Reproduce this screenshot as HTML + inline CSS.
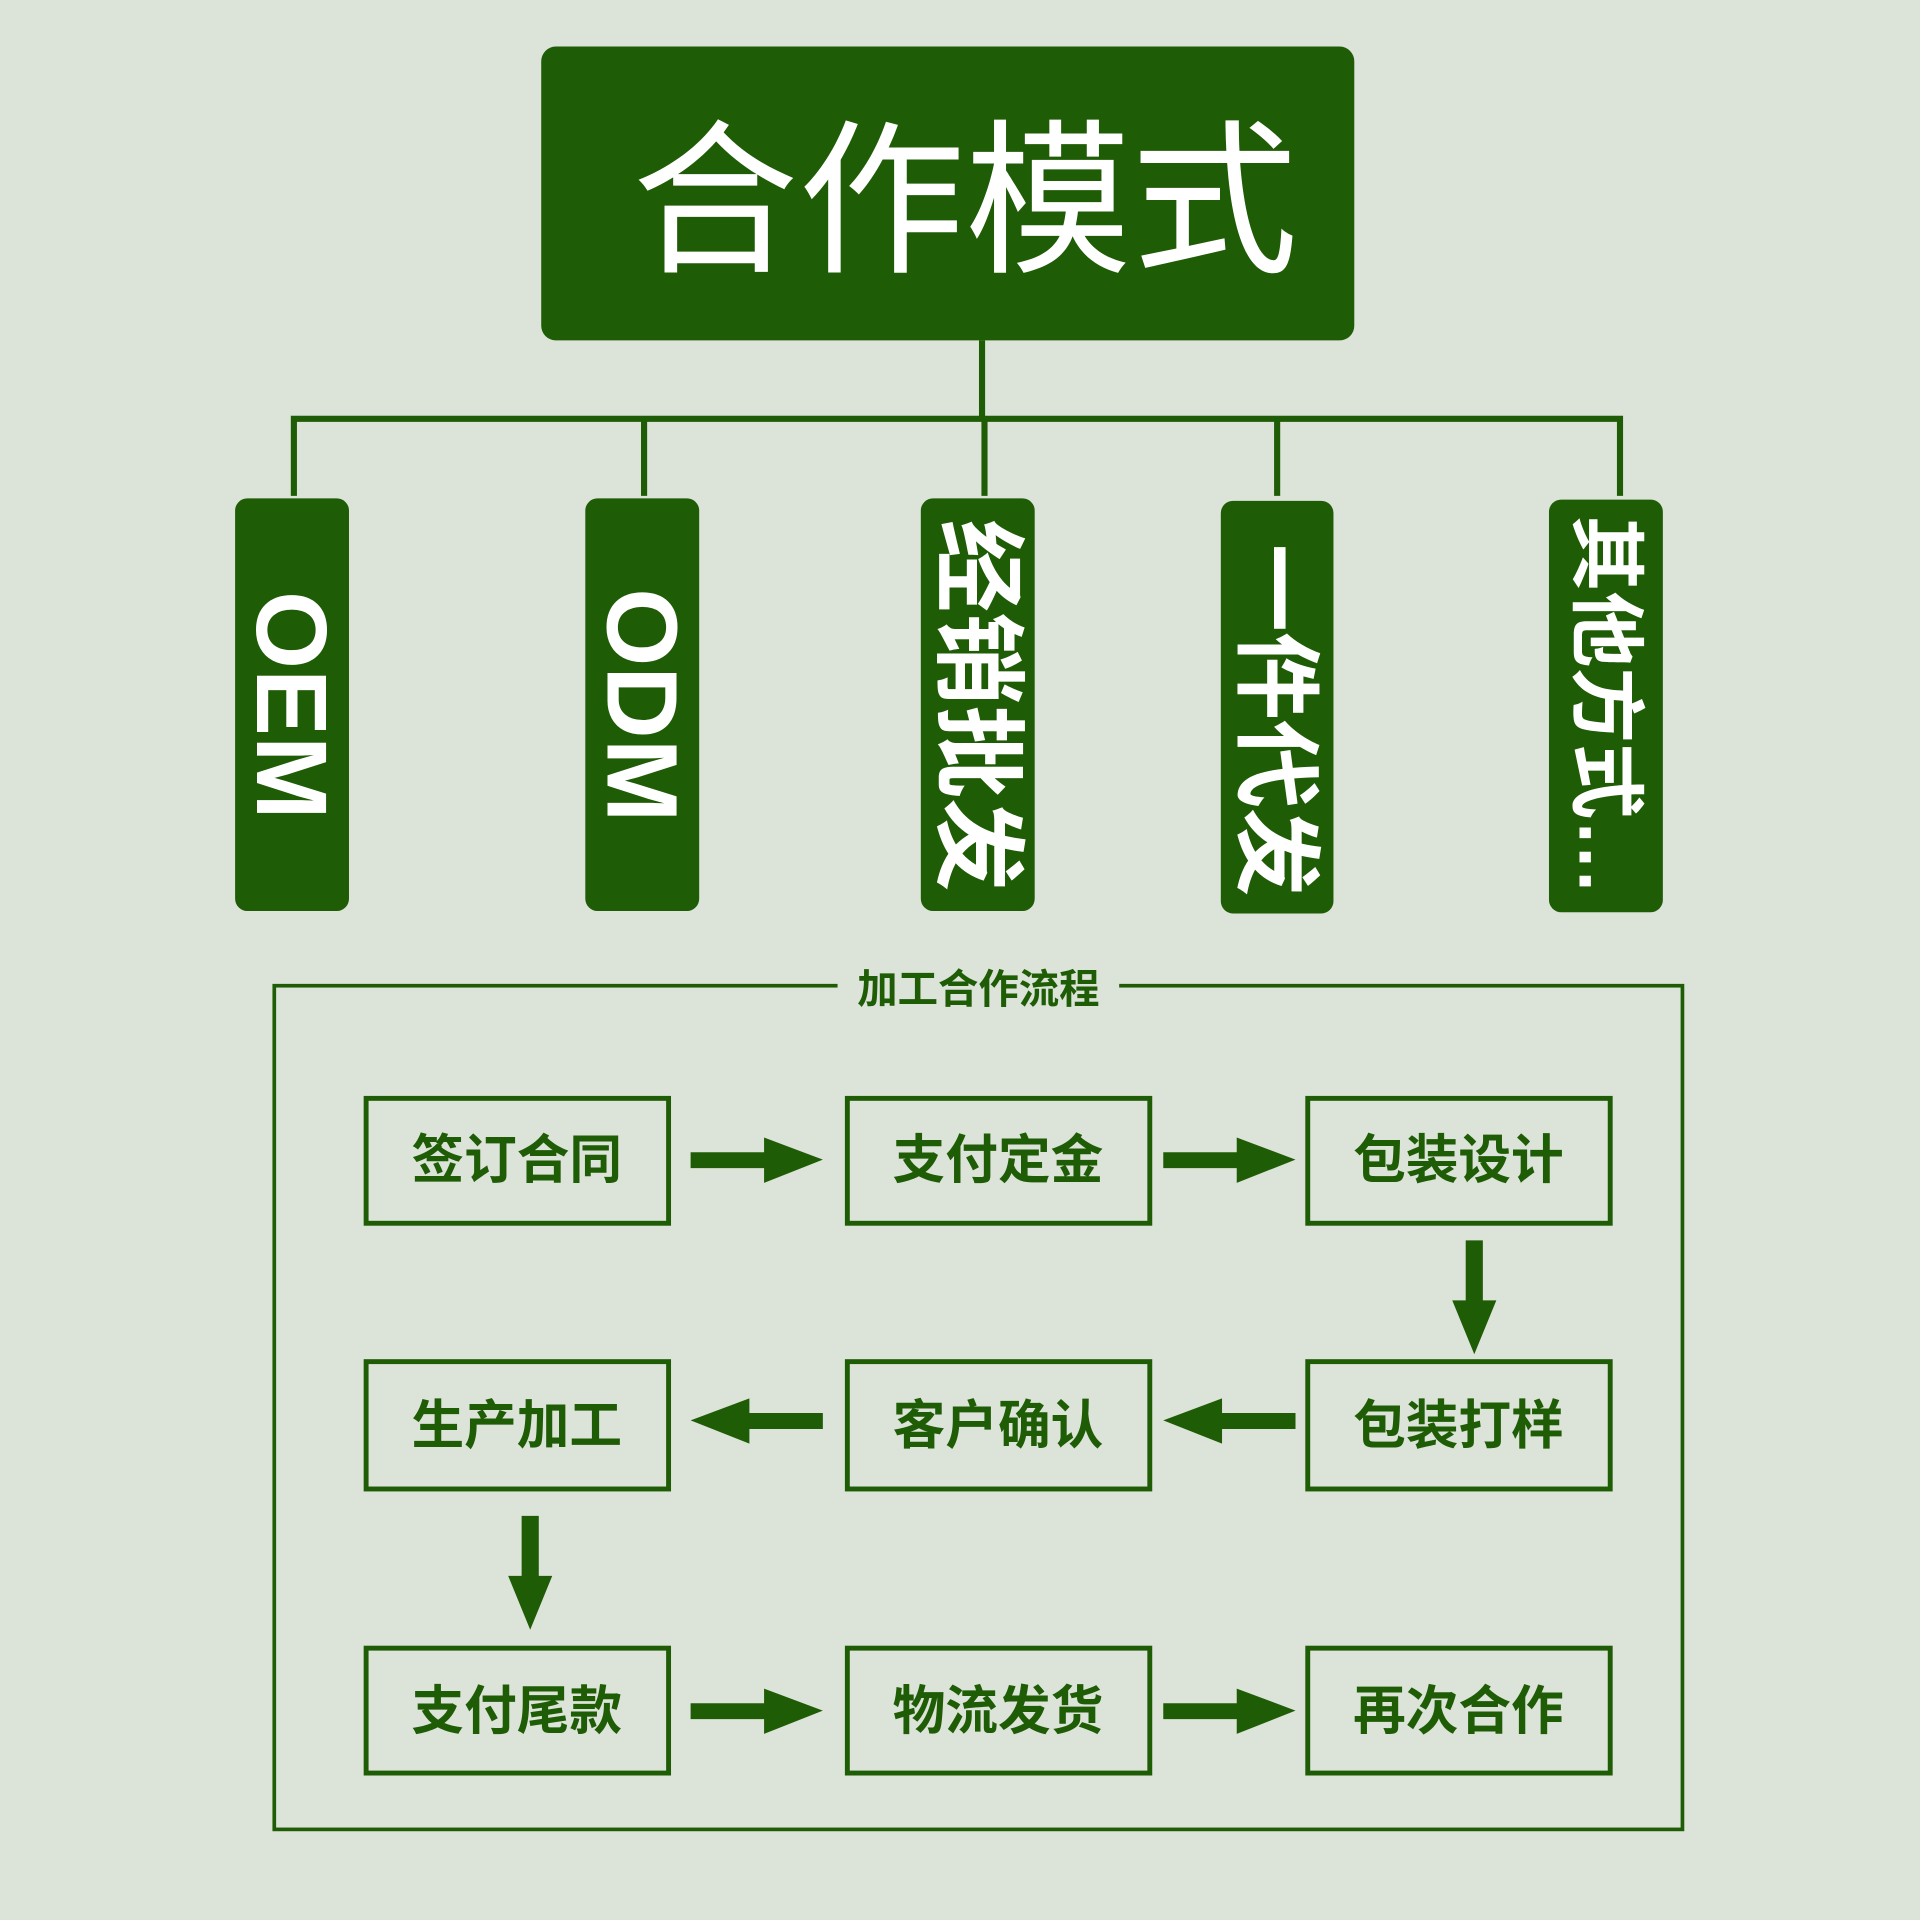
<!DOCTYPE html>
<html><head><meta charset="utf-8"><style>
html,body{margin:0;padding:0;background:#dce3d8;}
svg{display:block}
text{font-family:"Liberation Sans","Noto Sans CJK SC",sans-serif;}
</style></head><body>
<svg width="1920" height="1920" viewBox="0 0 1568 1568" xmlns="http://www.w3.org/2000/svg">
<rect width="1568" height="1568" fill="#dce3d8"/>
<g fill="#1f5c06">
<rect x="442" y="38" width="664" height="240" rx="12"/>
<rect x="192" y="407" width="93" height="337" rx="10"/>
<rect x="478" y="407" width="93" height="337" rx="10"/>
<rect x="752" y="407" width="93" height="337" rx="10"/>
<rect x="997" y="409" width="92" height="337" rx="10"/>
<rect x="1265" y="408" width="93" height="337" rx="10"/>
</g>
<text x="788" y="212" font-size="136" fill="#fff" text-anchor="middle">合作模式</text>
<g stroke="#1f5c06" stroke-width="5" fill="none">
<line x1="802" y1="278" x2="802" y2="342"/>
<polyline points="240,405 240,342 1323,342 1323,405"/>
<line x1="526" y1="342" x2="526" y2="405"/>
<line x1="804" y1="342" x2="804" y2="405"/>
<line x1="1043" y1="342" x2="1043" y2="405"/>
</g>
<g fill="#fff" font-weight="bold" text-anchor="middle">
<text transform="translate(239,576) rotate(90)" font-size="82" dy="29">OEM</text>
<text transform="translate(525,576) rotate(90)" font-size="82" dy="29">ODM</text>
<text transform="translate(799,576) rotate(90)" font-size="76" dy="27">经销批发</text>
<text transform="translate(1043,588) rotate(90)" font-size="72" dy="26">一件代发</text>
<text transform="translate(1312,576) rotate(90)" font-size="62" dy="22">其他方式…</text>
</g>
<rect x="224" y="805" width="1150" height="689" fill="none" stroke="#1f5c06" stroke-width="3"/>
<rect x="684" y="788" width="230" height="38" fill="#dce3d8"/>
<text x="799" y="819" font-size="33" font-weight="bold" fill="#1f5c06" text-anchor="middle">加工合作流程</text>
<g fill="none" stroke="#1f5c06" stroke-width="4">
<rect x="299" y="897" width="247" height="102"/>
<rect x="692" y="897" width="247" height="102"/>
<rect x="1068" y="897" width="247" height="102"/>
<rect x="299" y="1112" width="247" height="104"/>
<rect x="692" y="1112" width="247" height="104"/>
<rect x="1068" y="1112" width="247" height="104"/>
<rect x="299" y="1346" width="247" height="102"/>
<rect x="692" y="1346" width="247" height="102"/>
<rect x="1068" y="1346" width="247" height="102"/>
</g>
<g fill="#1f5c06" font-size="43" font-weight="bold" text-anchor="middle">
<text x="422" y="962">签订合同</text>
<text x="815" y="962">支付定金</text>
<text x="1191" y="962">包装设计</text>
<text x="422" y="1179">生产加工</text>
<text x="815" y="1179">客户确认</text>
<text x="1191" y="1179">包装打样</text>
<text x="422" y="1412">支付尾款</text>
<text x="815" y="1412">物流发货</text>
<text x="1191" y="1412">再次合作</text>
</g>
<g fill="#1f5c06">
<polygon points="564,941 624,941 624,929 672,947 624,966 624,954 564,954"/>
<polygon points="950,941 1010,941 1010,929 1058,947 1010,966 1010,954 950,954"/>
<polygon points="564,1391 624,1391 624,1379 672,1397 624,1416 624,1404 564,1404"/>
<polygon points="950,1391 1010,1391 1010,1379 1058,1397 1010,1416 1010,1404 950,1404"/>
<polygon points="672,1154 612,1154 612,1142 564,1160 612,1179 612,1167 672,1167"/>
<polygon points="1058,1154 998,1154 998,1142 950,1160 998,1179 998,1167 1058,1167"/>
<polygon points="1197,1013 1211,1013 1211,1062 1222,1062 1204,1106 1186,1062 1197,1062"/>
<polygon points="426,1238 440,1238 440,1287 451,1287 433,1331 415,1287 426,1287"/>
</g>
</svg>
</body></html>
